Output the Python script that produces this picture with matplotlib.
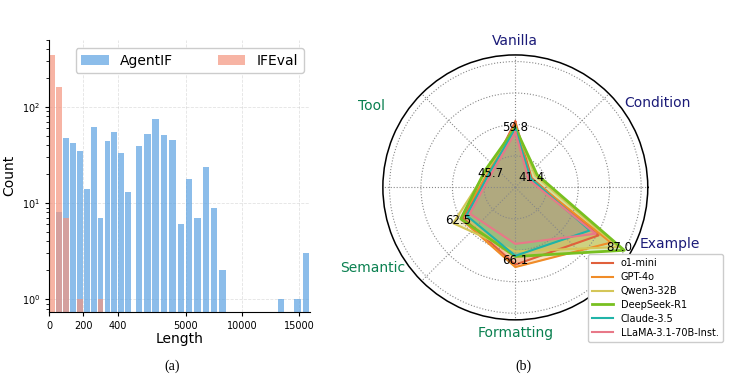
import numpy as np
import matplotlib
matplotlib.use("Agg")
import matplotlib.pyplot as plt

# (a) length histogram: two bin ranges, short (0-480, width 40) and long (500-16000)
short_edges = np.arange(0, 520, 40)
long_edges = np.linspace(500, 16000, 22)
agentif_short = [0, 8, 48, 42, 35, 14, 62, 7, 44, 55, 33, 13]
ifeval_short = [350, 160, 7, 0, 1, 0, 0, 1, 0, 0, 0, 0]
agentif_long = [39, 53, 76, 51, 45, 6, 18, 7, 24, 9, 2, 0, 0, 0, 0, 0, 0, 1, 0, 1, 3]
length_ticks = [0, 200, 400, 5000, 10000, 15000]

# (b) radar
categories = ["Vanilla", "Condition", "Example", "Formatting", "Semantic", "Tool"]
cat_colors = ["#1b1b78", "#1b1b78", "#1b1b78", "#0a8050", "#0a8050", "#0a8050"]
models = ["o1-mini", "GPT-4o", "Qwen3-32B", "DeepSeek-R1", "Claude-3.5", "LLaMA-3.1-70B-Inst."]
scores = {
    "o1-mini":             [59.8, 38.5, 73.5, 65.0, 57.5, 43.5],
    "GPT-4o":              [58.5, 38.0, 80.0, 66.1, 58.5, 44.0],
    "Qwen3-32B":           [57.5, 40.5, 84.0, 59.0, 62.5, 45.0],
    "DeepSeek-R1":         [57.0, 41.4, 87.0, 61.3, 58.5, 45.7],
    "Claude-3.5":          [56.5, 38.0, 69.0, 61.0, 55.5, 43.5],
    "LLaMA-3.1-70B-Inst.": [55.0, 37.0, 72.0, 55.6, 53.8, 42.5],
}
model_colors = ["#e0603c", "#f08c28", "#d4c658", "#78c020", "#20b4a8", "#e87888"]

K = 0.0657  # compression of the long-length part of the x axis


def fwd(x):
    x = np.asarray(x, dtype=float)
    return np.where(x <= 500, x, 500 + (x - 500) * K)


def inv(y):
    y = np.asarray(y, dtype=float)
    return np.where(y <= 500, y, 500 + (y - 500) / K)


fig = plt.figure(figsize=(7.42, 3.84), dpi=100)

# ---------- (a) ----------
ax = fig.add_axes([0.066, 0.188, 0.352, 0.708])
ax.set_xscale("function", functions=(fwd, inv))
ax.set_yscale("log")

blue = "#5ba2e2"
pink = "#f4947e"
sl, sw = short_edges[:-1], np.diff(short_edges)
ll, lw = long_edges[:-1], np.diff(long_edges)
ax.bar(sl + sw * 0.085, agentif_short, width=sw * 0.83, align="edge", color=blue, alpha=0.7, label="AgentIF")
ax.bar(ll + lw * 0.1, agentif_long, width=lw * 0.78, align="edge", color=blue, alpha=0.7)
ax.bar(sl + sw * 0.085, ifeval_short, width=sw * 0.83, align="edge", color=pink, alpha=0.7, label="IFEval")

ax.set_xlim(0, 16000)
ax.set_ylim(0.74, 500)
ax.set_xticks(length_ticks)
ax.set_xticklabels([str(t) for t in length_ticks])
ax.xaxis.set_minor_locator(matplotlib.ticker.NullLocator())
ax.tick_params(labelsize=7, length=3)
ax.set_xlabel("Length", fontsize=10, labelpad=1)
ax.set_ylabel("Count", fontsize=10, labelpad=4)
ax.grid(True, linestyle="--", linewidth=0.6, alpha=0.35)
ax.set_axisbelow(True)
ax.spines["top"].set_visible(False)
ax.spines["right"].set_visible(False)
ax.legend(loc="upper right", bbox_to_anchor=(0.975, 0.97), ncol=2, fontsize=10,
          borderaxespad=0, columnspacing=3.2, handlelength=2.0, framealpha=1)

# ---------- (b) ----------
pax = fig.add_axes([0.516, 0.167, 0.357, 0.690], projection="polar")
angles = np.deg2rad(90 - 60 * np.arange(len(categories)))
closed = np.append(angles, angles[0])
for name, col in zip(models, model_colors):
    vals = np.append(scores[name], scores[name][0])
    lw_ = 2.0 if name == "DeepSeek-R1" else 1.5
    pax.plot(closed, vals, color=col, linewidth=lw_, label=name)
    pax.fill(closed, vals, color=col, alpha=0.27)

pax.set_ylim(30, 90)
pax.set_rgrids(np.linspace(30, 87, 5)[1:], labels=[""] * 4)
pax.set_thetagrids(np.arange(0, 360, 45), labels=[""] * 8)
pax.grid(True, linestyle=":", color="#888888", linewidth=0.8)
pax.spines["polar"].set_linewidth(1.1)

# max value of each dimension, slightly pulled toward the centre
table = np.array([scores[m] for m in models])
for ang, mx in zip(angles, table.max(axis=0)):
    pax.text(ang, mx - 2.8, f"{mx:.1f}", ha="center", va="center", fontsize=8.5)

# category labels
label_r = [96.1, 105, 104.7, 95.9, 104.2, 104.7]
label_shift = [0, 0.7, 10, 0, -0.4, 0.4]
for ang, r, dsh, cat, col in zip(angles, label_r, label_shift, categories, cat_colors):
    pax.text(ang + np.deg2rad(dsh), r, cat, ha="center", va="center", fontsize=10, color=col)

pax.legend(loc="lower right", bbox_to_anchor=(1.283, -0.082), fontsize=7,
           handlelength=2.2, borderaxespad=0, labelspacing=0.4, framealpha=1,
           edgecolor="#cccccc")

fig.text(0.232, 0.047, "(a)", ha="center", va="center", fontsize=10, family="Liberation Serif")
fig.text(0.705, 0.047, "(b)", ha="center", va="center", fontsize=10, family="Liberation Serif")

fig.savefig("out.png", dpi=100)
